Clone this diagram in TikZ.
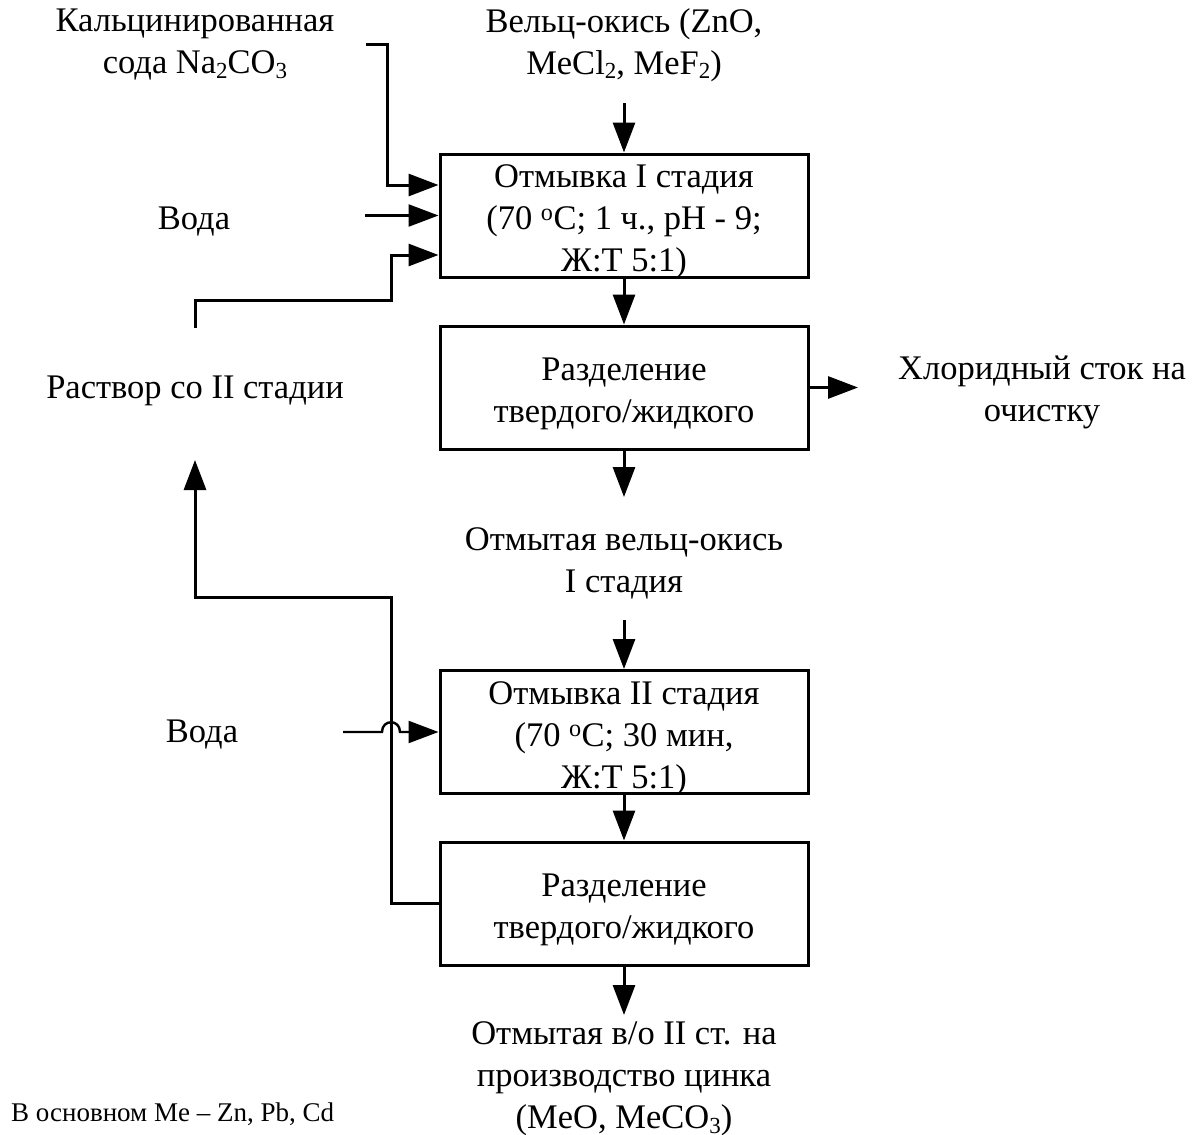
\documentclass[tikz,border=0pt]{standalone}
\usepackage{fontspec}
\setmainfont{Liberation Serif}
\usetikzlibrary{arrows.meta}
\newcommand\mainsize{\fontsize{34.5pt}{42pt}\selectfont}
\newcommand\notesize{\fontsize{27pt}{30pt}\selectfont}
% box text sits a little low: a taller first line and a last line without depth
\newcommand\boxstrut{\rule{0pt}{28pt}}
\newcommand\lastline[1]{\raisebox{0pt}[\height][0pt]{#1}}
% chemical index, lowered only slightly
\newcommand\idx[1]{\raisebox{-0.13em}{\fontsize{23pt}{23pt}\selectfont #1}}
\begin{document}
\begin{tikzpicture}[x=1pt,y=-1pt,
  box/.style={draw,line width=3pt,minimum width=368pt,minimum height=123pt,
              inner sep=0pt,align=center,font=\mainsize},
  lbl/.style={align=center,font=\mainsize,inner sep=0pt},
  arr/.style={line width=3pt,-{Triangle[length=30pt,width=22pt]}},
  thin/.style={line width=2.4pt,-{Triangle[length=30pt,width=22pt]}}]
\useasboundingbox (0,0) rectangle (1200,1135);

% process boxes
\node[box] (b1) at (624,215.5) {\boxstrut Отмывка I стадия\\(70 \textsuperscript{o}C; 1 ч., pH - 9;\\\lastline{Ж:Т 5:1)}};
\node[box] (b2) at (624,387.5) {\boxstrut Разделение\\\lastline{твердого/жидкого}};
\node[box] (b3) at (624,732) {\boxstrut Отмывка II стадия\\(70 \textsuperscript{o}C; 30 мин,\\\lastline{Ж:Т 5:1)}};
\node[box] (b4) at (624,903.5) {\boxstrut Разделение\\\lastline{твердого/жидкого}};

% labels
\node[lbl] (soda) at (195,45) {Кальцинированная\\сода Na\idx{2}CO\idx{3}};
\node[lbl] (velc) at (624,45) {Вельц-окись (ZnO,\\MeCl\idx{2}, MeF\idx{2})};
\node[lbl] (voda1) at (194,222) {Вода};
\node[lbl] (rast) at (195,391) {Раствор со II стадии};
\node[lbl] (chl) at (1042,392) {Хлоридный сток на\\очистку};
\node[lbl] (otm) at (624,563) {Отмытая вельц-окись\\I стадия};
\node[lbl] (voda2) at (202,735) {Вода};
\node[lbl] (prod) at (624,1079) {Отмытая в/о II ст. на\\производство цинка\\(MeO, MeCO\idx{3})};
\node[anchor=west,inner sep=0pt,font=\notesize] (note) at (11,1114) {В основном Me – Zn, Pb, Cd};

% connector end points
\coordinate (velcout) at (624,103);
\coordinate (otmin) at (624,497);
\coordinate (otmout) at (624,620);
\coordinate (prodin) at (624,1015);
\coordinate (chlin) at (858,387.5);
\coordinate (sodaout) at (366,44);
\coordinate (sodabend) at (387,44);
\coordinate (sodain) at (387,185);
\coordinate (voda1out) at (365,215.5);
\coordinate (rastout) at (195,328);
\coordinate (rastbend1) at (195,300);
\coordinate (rastbend2) at (391,300);
\coordinate (rastin) at (391,255);
\coordinate (recb1) at (391,903.5);
\coordinate (recb2) at (391,597);
\coordinate (recb3) at (195,597);
\coordinate (rastin2) at (195,460);
\coordinate (voda2out) at (343,732);
\coordinate (hopa) at (382,732);
\coordinate (hopb) at (400,732);

% main flow
\draw[arr] (velcout) -- (b1.north);
\draw[arr] (b1.south) -- (b2.north);
\draw[arr] (b2.south) -- (otmin);
\draw[arr] (otmout) -- (b3.north);
\draw[arr] (b3.south) -- (b4.north);
\draw[arr] (b4.south) -- (prodin);
\draw[arr] (b2.east) -- (chlin);

% inputs of stage I
\draw[arr] (sodaout) -- (sodabend) -- (sodain) -- (b1.west |- sodain);
\draw[thin] (voda1out) -- (b1.west);
\draw[arr] (rastout) -- (rastbend1) -- (rastbend2) -- (rastin) -- (b1.west |- rastin);

% solution recycled from stage II
\draw[arr] (b4.west) -- (recb1) -- (recb2) -- (recb3) -- (rastin2);

% water to stage II, hopping over the recycle line
\draw[thin] (voda2out) -- (hopa) .. controls (382,719) and (400,719) .. (hopb) -- (b3.west);
\end{tikzpicture}
\end{document}
